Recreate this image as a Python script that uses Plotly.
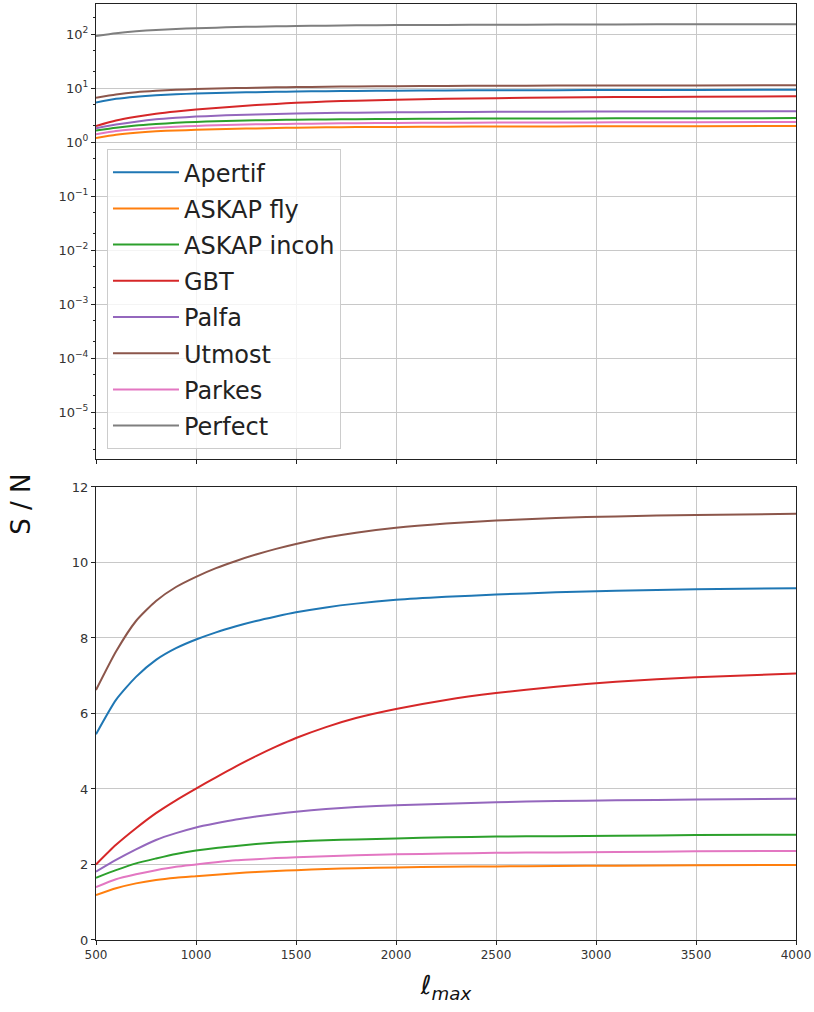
import plotly.graph_objects as go

ell = [500, 600, 700, 800, 900, 1000, 1100, 1200, 1300, 1400, 1500,
       1650, 1800, 2000, 2250, 2500, 2800, 3100, 3500, 4000]

series_names = ["Apertif", "ASKAP fly", "ASKAP incoh", "GBT", "Palfa", "Utmost", "Parkes", "Perfect"]
colors = ["#1f77b4", "#ff7f0e", "#2ca02c", "#d62728", "#9467bd", "#8c564b", "#e377c2", "#7f7f7f"]

apertif = [5.45, 6.36, 6.97, 7.42, 7.73, 7.96, 8.15, 8.31, 8.45, 8.57, 8.68,
           8.81, 8.91, 9.01, 9.09, 9.15, 9.21, 9.25, 9.29, 9.32]
askap_fly = [1.19, 1.37, 1.50, 1.59, 1.65, 1.69, 1.73, 1.77, 1.80, 1.83, 1.85,
             1.88, 1.90, 1.92, 1.94, 1.95, 1.96, 1.97, 1.98, 1.99]
askap_incoh = [1.65, 1.85, 2.03, 2.16, 2.28, 2.37, 2.44, 2.49, 2.54, 2.58, 2.61,
               2.64, 2.665, 2.69, 2.72, 2.74, 2.75, 2.76, 2.78, 2.79]
gbt = [2.00, 2.52, 2.96, 3.36, 3.70, 4.01, 4.31, 4.60, 4.87, 5.12, 5.35,
       5.64, 5.88, 6.12, 6.36, 6.54, 6.71, 6.84, 6.96, 7.06]
palfa = [1.81, 2.12, 2.40, 2.65, 2.83, 2.98, 3.09, 3.19, 3.27, 3.34, 3.40,
         3.47, 3.52, 3.57, 3.61, 3.65, 3.68, 3.70, 3.72, 3.74]
utmost = [6.62, 7.64, 8.45, 8.98, 9.35, 9.62, 9.85, 10.04, 10.21, 10.36, 10.49,
          10.66, 10.79, 10.92, 11.03, 11.11, 11.18, 11.22, 11.26, 11.29]
parkes = [1.40, 1.61, 1.74, 1.85, 1.94, 2.00, 2.06, 2.11, 2.14, 2.17, 2.19,
          2.22, 2.245, 2.27, 2.29, 2.31, 2.32, 2.33, 2.35, 2.36]
perfect = [93, 104, 113, 120, 125, 129, 132, 136, 138, 140, 142,
           144, 146, 148, 149, 150, 151, 152, 153, 153]

all_series = [apertif, askap_fly, askap_incoh, gbt, palfa, utmost, parkes, perfect]

log_tickvals = [1e-5, 1e-4, 1e-3, 1e-2, 1e-1, 1e0, 1e1, 1e2]
log_ticktext = ["10<sup>−5</sup>", "10<sup>−4</sup>", "10<sup>−3</sup>", "10<sup>−2</sup>",
                "10<sup>−1</sup>", "10<sup>0</sup>", "10<sup>1</sup>", "10<sup>2</sup>"]
x_ticks = [500, 1000, 1500, 2000, 2500, 3000, 3500, 4000]
lin_ticks = [0, 2, 4, 6, 8, 10, 12]

line_style = dict(width=2, shape="spline", smoothing=0.6)

fig = go.Figure()
for name, col, vals in zip(series_names, colors, all_series):
    fig.add_trace(go.Scatter(x=ell, y=vals, name=name, mode="lines", legendgroup=name,
                             line=dict(line_style, color=col),
                             xaxis="x", yaxis="y", showlegend=True))
for name, col, vals in zip(series_names[:-1], colors[:-1], all_series[:-1]):
    fig.add_trace(go.Scatter(x=ell, y=vals, name=name, mode="lines", legendgroup=name,
                             line=dict(line_style, color=col),
                             xaxis="x2", yaxis="y2", showlegend=False))

grid = "#c8c8c8"
tickfont = dict(family="DejaVu Sans", size=12, color="#333333")
ytickfont = dict(family="DejaVu Sans", size=13, color="#333333")
common_x = dict(range=[500, 4000], tickvals=x_ticks, showgrid=True, gridcolor=grid, gridwidth=1,
                showline=True, mirror=True, linecolor="#222222", linewidth=1, automargin=False,
                ticks="outside", ticklen=4, tickcolor="#222222", zeroline=False, tickfont=tickfont)

fig.update_layout(
    width=814, height=1012,
    margin=dict(l=96, r=18, t=4, b=72, autoexpand=False),
    paper_bgcolor="white", plot_bgcolor="white",
    font=dict(family="DejaVu Sans", color="#222222"),
    xaxis=dict(common_x, anchor="y", showticklabels=False),
    yaxis=dict(type="log", range=[-5.87, 2.56], domain=[0.5139, 1.0], automargin=False,
               tickvals=log_tickvals, ticktext=log_ticktext,
               showgrid=True, gridcolor=grid, gridwidth=1,
               showline=True, mirror=True, linecolor="#222222", linewidth=1,
               ticks="outside", ticklen=4, tickcolor="#222222", tickfont=ytickfont,
               minor=dict(ticks="outside", ticklen=2, tickcolor="#222222", showgrid=False)),
    xaxis2=dict(common_x, anchor="y2", matches="x",
                title=dict(text="ℓ<sub><i>max</i></sub>", font=dict(size=26, color="#111111"), standoff=14)),
    yaxis2=dict(range=[0, 12], domain=[0.0, 0.484], tickvals=lin_ticks, automargin=False,
                showgrid=True, gridcolor=grid, gridwidth=1,
                showline=True, mirror=True, linecolor="#222222", linewidth=1,
                ticks="outside", ticklen=4, tickcolor="#222222", zeroline=False, tickfont=ytickfont),
    legend=dict(x=0.0157, y=0.845, xanchor="left", yanchor="top", itemwidth=66,
                tracegroupgap=2,
                bgcolor="rgba(255,255,255,0.8)", bordercolor="#cccccc", borderwidth=1,
                font=dict(family="DejaVu Sans", size=24, color="#222222")),
    annotations=[dict(text="S / N", x=-0.107, y=0.465, xref="paper", yref="paper",
                      showarrow=False, textangle=-90, font=dict(size=26, color="#111111"),
                      xanchor="center", yanchor="middle")]
)

fig.write_html("out.html")
